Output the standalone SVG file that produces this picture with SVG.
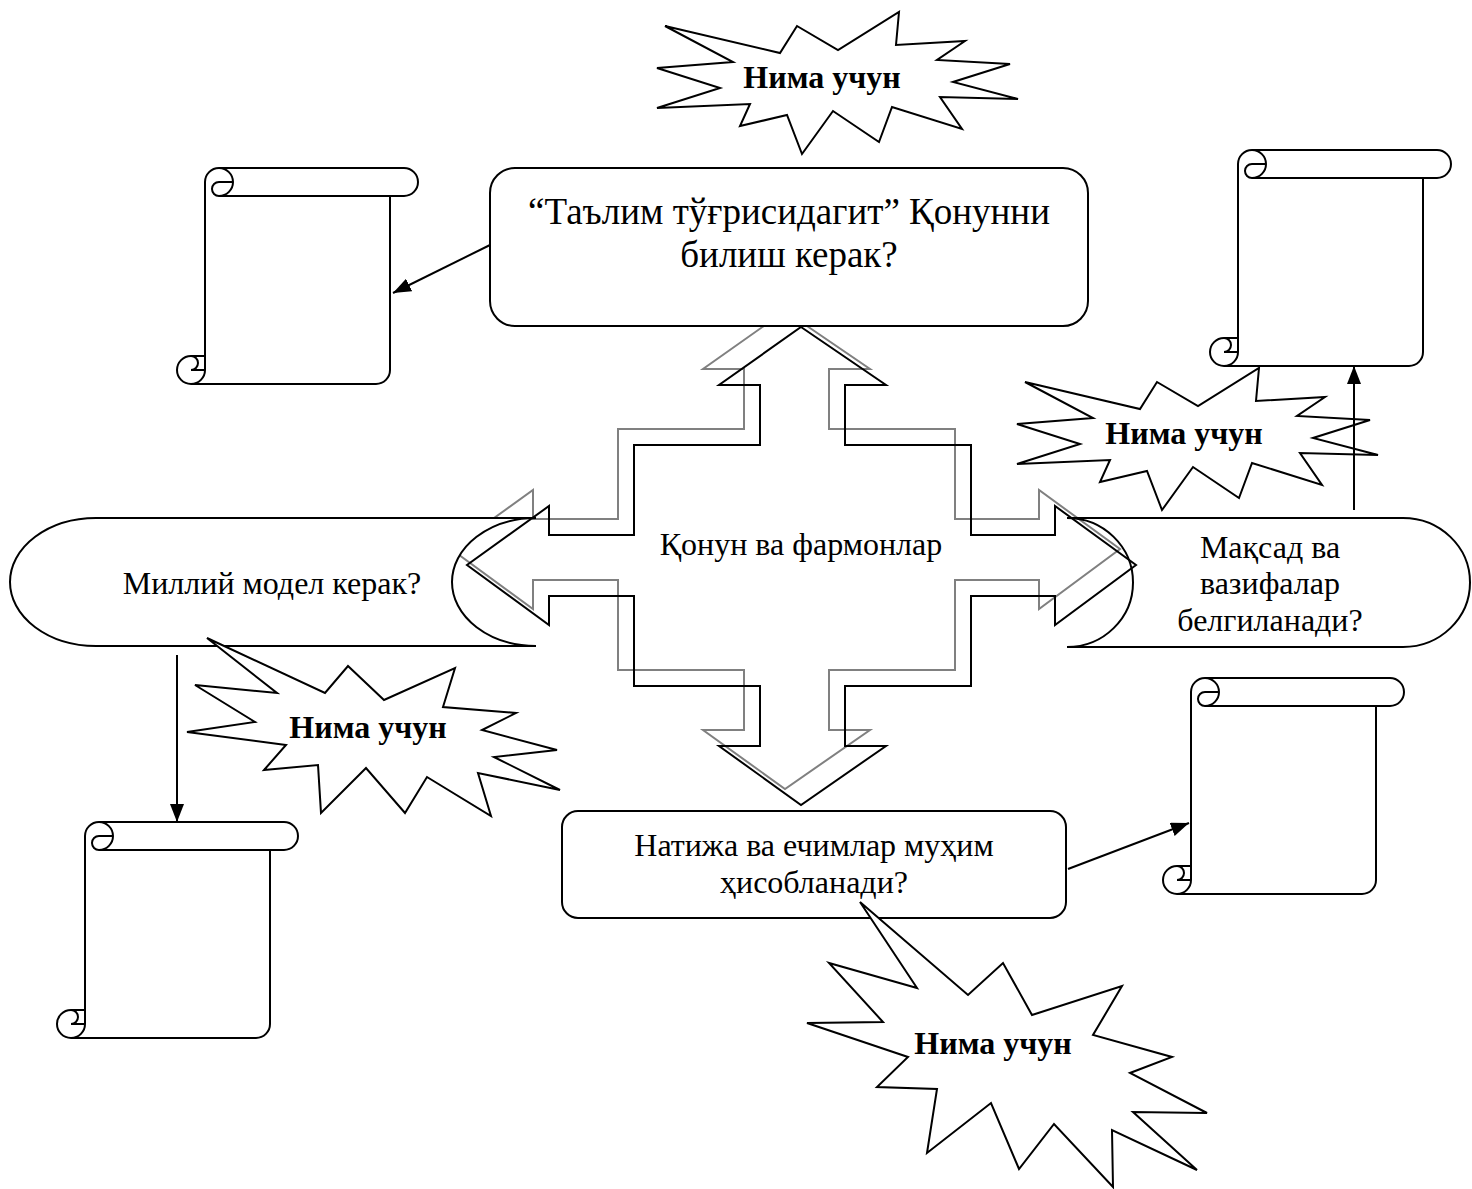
<svg xmlns="http://www.w3.org/2000/svg" width="1472" height="1189" viewBox="0 0 1472 1189">
<style>
.ln{fill:none;stroke:#000;stroke-width:2}
.sh{fill:#fff;stroke:#000;stroke-width:2;stroke-linejoin:miter}
.gr{fill:none;stroke:#808080;stroke-width:2}
.t{font-family:"Liberation Serif","Times New Roman",serif;fill:#000;text-anchor:middle;font-size:32px}
.tb{font-family:"Liberation Serif","Times New Roman",serif;font-weight:bold;font-size:32px;fill:#000;text-anchor:middle}
.cn{fill:none;stroke:#000;stroke-width:2;marker-end:url(#ah)}
</style>
<defs>
<marker id="ah" markerUnits="userSpaceOnUse" markerWidth="18" markerHeight="14" viewBox="0 0 10 10" refX="10" refY="5" orient="auto" preserveAspectRatio="none"><path d="M0,0 L10,5 L0,10 z" fill="#000"/></marker>
<g id="scroll">
<path class="sh" d="M28 202 L28 14 A14 14 0 0 1 42 0 L227 0 A14 14 0 0 1 227 28 L213 28 L213 202 A14 14 0 0 1 199 216 L14 216 A14 14 0 0 1 0 202 A14 14 0 0 1 14 188 L28 188 Z"/>
<path class="ln" d="M42 0 A14 14 0 0 1 42 28 A7 7 0 0 1 42 14 L56 14 M213 28 L42 28 M14 188 A7 7 0 0 1 14 202 L28 202 M28 202 A14 14 0 0 1 14 216"/>
</g>
<polygon id="burst" points="665,26 780,53 797,26 838,50 899,12 896,45 965,41 937,60 1010,64 953,82 1018,99 940,97 962,129 892,107 879,142 833,111 802,154 787,115 740,126 750,104 657,108 720,88 657,68 733,62"/>
</defs>
<rect width="1472" height="1189" fill="#fff"/>

<g id="cross-shadow">
<path class="gr" transform="translate(-16,-16)" d="M801 327 L886 385 L845 385 L845 445 L971 445 L971 535 L1055 535 L1055 506 L1136 565 L1055 625 L1055 596 L971 596 L971 686 L845 686 L845 746 L886 746 L801 805 L719 746 L760 746 L760 686 L634 686 L634 596 L549 596 L549 625 L467 565 L549 506 L549 535 L634 535 L634 445 L760 445 L760 385 L719 385 Z"/>
</g>

<g id="node-top">
<rect class="sh" x="490" y="168" width="598" height="158" rx="25"/>
<text class="t" style="font-size:37px" x="789" y="224">“Таълим тўғрисидагит” Қонунни</text>
<text class="t" style="font-size:37px" x="789" y="267">билиш керак?</text>
</g>

<g id="node-bottom">
<rect class="sh" x="562" y="811" width="504" height="107" rx="16"/>
<text class="t" x="814" y="856">Натижа ва ечимлар муҳим</text>
<text class="t" x="814" y="893">ҳисобланади?</text>
</g>

<g id="node-left">
<path class="sh" d="M96 518 L536 518 A84 64 0 0 0 536 646 L96 646 A86 64 0 0 1 96 518 Z"/>
<text class="t" x="272" y="594">Миллий модел керак?</text>
</g>

<g id="node-right">
<path class="sh" d="M1067 518 L1403 518 A67 64.5 0 0 1 1403 647 L1067 647 A66 64.5 0 0 0 1067 518 Z"/>
<text class="t" x="1270" y="558">Мақсад ва</text>
<text class="t" x="1270" y="594">вазифалар</text>
<text class="t" x="1270" y="631">белгиланади?</text>
</g>

<g id="node-center">
<path class="ln" d="M801 327 L886 385 L845 385 L845 445 L971 445 L971 535 L1055 535 L1055 506 L1136 565 L1055 625 L1055 596 L971 596 L971 686 L845 686 L845 746 L886 746 L801 805 L719 746 L760 746 L760 686 L634 686 L634 596 L549 596 L549 625 L467 565 L549 506 L549 535 L634 535 L634 445 L760 445 L760 385 L719 385 Z"/>
<text class="t" x="801" y="555">Қонун ва фармонлар</text>
</g>

<g id="scroll-top-left"><use href="#scroll" transform="translate(177,168)"/></g>
<g id="scroll-top-right"><use href="#scroll" transform="translate(1210,150)"/></g>
<g id="scroll-bottom-left"><use href="#scroll" transform="translate(57,822)"/></g>
<g id="scroll-bottom-right"><use href="#scroll" transform="translate(1163,678)"/></g>

<g id="burst-top">
<use href="#burst" class="sh"/>
<text class="tb" x="822" y="88">Нима учун</text>
</g>
<g id="burst-right">
<use href="#burst" class="sh" transform="translate(360,356)"/>
<text class="tb" x="1184" y="444">Нима учун</text>
</g>
<g id="burst-left">
<polygon class="sh" points="207,638 325,693 348,666 384,700 455,668 443,707 516,713 482,730 557,750 494,757 560,790 478,773 491,816 427,777 405,813 366,768 321,813 318,765 264,770 286,745 187,732 255,722 195,685 277,693"/>
<text class="tb" x="368" y="738">Нима учун</text>
</g>
<g id="burst-bottom">
<polygon class="sh" points="860,902 968,995 1003,963 1032,1015 1122,986 1093,1035 1172,1057 1130,1073 1207,1113 1133,1112 1197,1170 1112,1130 1113,1187 1054,1124 1019,1169 991,1103 927,1153 937,1089 877,1087 908,1057 807,1023 883,1022 829,963 917,988"/>
<text class="tb" x="993" y="1054">Нима учун</text>
</g>

<g id="connectors">
<line class="cn" x1="490" y1="245" x2="393" y2="293"/>
<line class="cn" x1="177" y1="655" x2="177" y2="822"/>
<line class="cn" x1="1354" y1="510" x2="1354" y2="366"/>
<line class="cn" x1="1068" y1="869" x2="1189" y2="823"/>
</g>
</svg>
